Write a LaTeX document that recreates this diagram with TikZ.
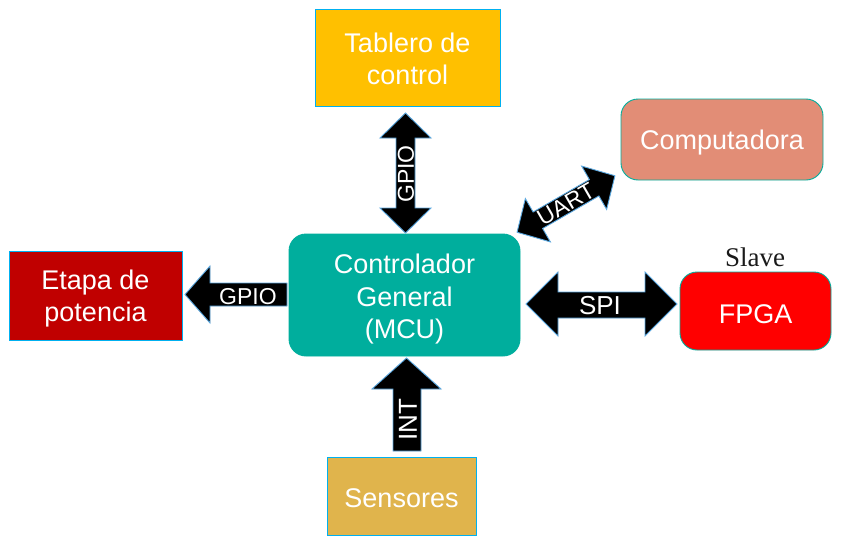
\documentclass[tikz,border=0pt]{standalone}
\usepackage{fontspec}
\setmainfont{Liberation Sans}
\newfontfamily\serifface{Liberation Serif}
\definecolor{tablero}{HTML}{FFC000}
\definecolor{compu}{HTML}{E28D76}
\definecolor{mcu}{HTML}{00AE9D}
\definecolor{etapa}{HTML}{C00000}
\definecolor{fpga}{HTML}{FF0000}
\definecolor{sensor}{HTML}{E0B44C}
\definecolor{edgeblue}{HTML}{00B0F0}
\definecolor{arrowedge}{HTML}{5BA8E0}
\definecolor{slavegray}{HTML}{1A1A1A}
\tikzset{
  boxtext/.style={text=white, font=\fontsize{27}{32.5}\selectfont, align=center, inner sep=0pt},
  sqbox/.style={draw=edgeblue, line width=0.9pt},
  rndbox/.style={draw=mcu, line width=0.9pt, rounded corners=17pt},
  blockarrow/.style={fill=black, draw=arrowedge, line width=0.9pt, line join=miter},
  arrowtext/.style={text=white, inner sep=0pt, font=\fontsize{26}{30}\selectfont},
}
\begin{document}
\begin{tikzpicture}[x=1pt,y=-1pt]
\useasboundingbox (0,0) rectangle (843,546);
% boxes
\draw[sqbox, fill=tablero] (315,9) rectangle (500,106);
\node[boxtext] (tablero) at (407.5,59) {Tablero de\\control};
\draw[rndbox, fill=compu] (621,99) rectangle (823,180);
\node[boxtext] (compu) at (722,142.5) {Computadora};
\draw[rndbox, fill=mcu] (289,234) rectangle (520,356);
\node[boxtext] (mcu) at (404.5,299.5) {Controlador\\General\\(MCU)};
\draw[sqbox, fill=etapa] (9,251) rectangle (182,340);
\node[boxtext] (etapa) at (95.5,298.5) {Etapa de\\potencia};
\draw[rndbox, fill=fpga] (680,272) rectangle (831,350);
\node[boxtext] (fpga) at (755.5,314) {FPGA};
\draw[sqbox, fill=sensor] (327,457) rectangle (476,535);
\node[boxtext] (sensores) at (401.5,498.5) {Sensores};
\node[text=slavegray, font=\serifface\fontsize{27}{32}\selectfont, inner sep=0pt] (slave) at (755,257) {Slave};
% vertical GPIO double arrow
\draw[blockarrow] (405.5,113) -- (431,138) -- (415,138) -- (415,208) -- (431,208) -- (405.5,233)
  -- (380,208) -- (396,208) -- (396,138) -- (380,138) -- cycle;
\node[arrowtext, rotate=90, font=\fontsize{23}{28}\selectfont] (gpioup) at (406,174) {GPIO};
% left GPIO arrow
\draw[blockarrow] (185,294.5) -- (210,266) -- (210,283) -- (287,283) -- (287,306) -- (210,306) -- (210,323) -- cycle;
\node[arrowtext, font=\fontsize{23}{28}\selectfont] (gpioleft) at (248,297) {GPIO};
% INT arrow
\draw[blockarrow] (406.5,358) -- (441,389) -- (421,389) -- (421,451) -- (393,451) -- (393,389) -- (372,389) -- cycle;
\node[arrowtext, rotate=90] (int) at (408,420) {INT};
% SPI double arrow
\draw[blockarrow] (526,304) -- (558,272) -- (558,292) -- (645,292) -- (645,272) -- (677,304)
  -- (645,336) -- (645,318) -- (558,318) -- (558,336) -- cycle;
\node[arrowtext] (spi) at (600,306) {SPI};
% UART double arrow
\begin{scope}[shift={(566,204)}, rotate=30]
\draw[blockarrow] (-56.5,0) -- (-32.5,25) -- (-32.5,9.5) -- (32.5,9.5) -- (32.5,25) -- (56.5,0)
  -- (32.5,-25) -- (32.5,-9.5) -- (-32.5,-9.5) -- (-32.5,-25) -- cycle;
\node[arrowtext, rotate=30, font=\fontsize{23}{28}\selectfont] (uart) at (0,0) {UART};
\end{scope}
\end{tikzpicture}
\end{document}
